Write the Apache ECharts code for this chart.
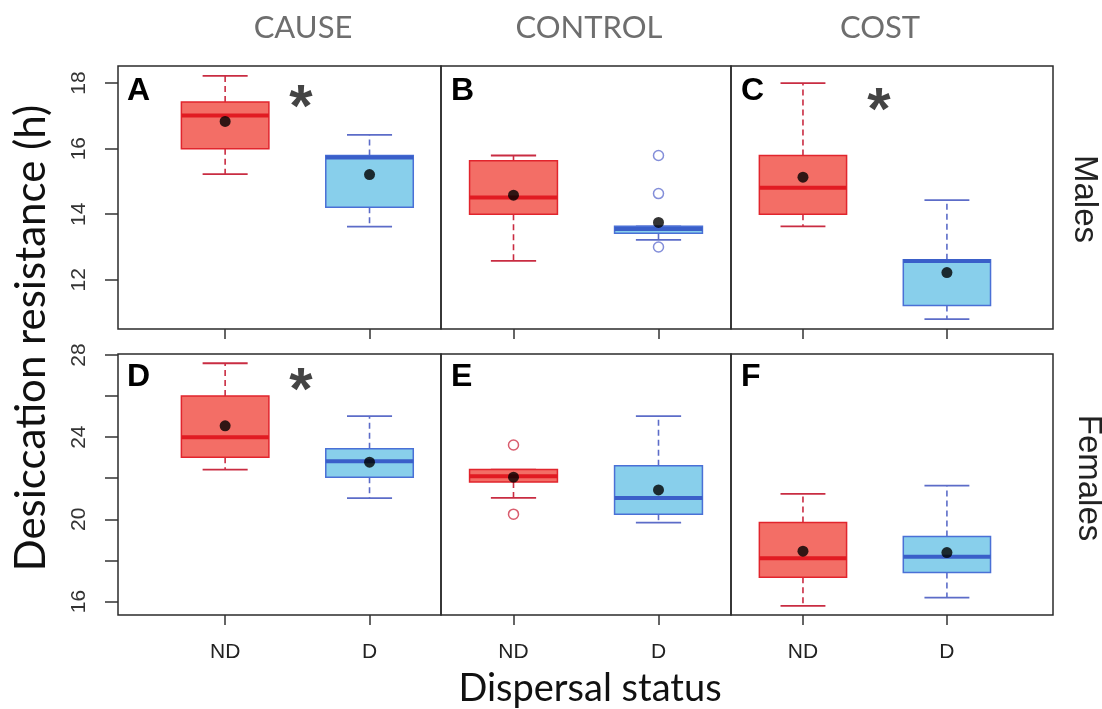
<!DOCTYPE html>
<html>
<head>
<meta charset="utf-8">
<script src="https://cdn.jsdelivr.net/npm/echarts@6/dist/echarts.min.js"></script>
<style>
  html, body { margin: 0; padding: 0; background: #fff; }
  #main { width: 1102px; height: 709px; }
</style>
</head>
<body>
<div id="main"></div>
<script>
const groups = ['ND', 'D'];
const columns = ['CAUSE', 'CONTROL', 'COST'];
const rows = ['Males', 'Females'];
const panelLetters = ['A', 'B', 'C', 'D', 'E', 'F'];

// boxes: [lower whisker, Q1, median, Q3, upper whisker] for ND, D
const maleCauseBox = [[15.22, 16.0, 17.01, 17.42, 18.22], [13.62, 14.21, 15.73, 15.79, 16.42]];
const maleControlBox = [[12.58, 14.0, 14.51, 15.63, 15.79], [13.22, 13.42, 13.55, 13.63, 13.63]];
const maleCostBox = [[13.63, 14.0, 14.81, 15.79, 18.0], [10.8, 11.22, 12.57, 12.61, 14.43]];
const femaleCauseBox = [[22.42, 23.02, 24.0, 26.0, 27.6], [21.03, 22.05, 22.83, 23.43, 25.02]];
const femaleControlBox = [[21.04, 21.82, 22.1, 22.42, 22.42], [19.84, 20.25, 21.04, 22.61, 25.02]];
const femaleCostBox = [[15.78, 17.18, 18.1, 19.84, 21.24], [16.19, 17.41, 18.18, 19.16, 21.64]];

// means (black dots)
const maleCauseMean = [16.83, 15.21];
const maleControlMean = [14.58, 13.75];
const maleCostMean = [15.13, 12.22];
const femaleCauseMean = [24.55, 22.78];
const femaleControlMean = [22.05, 21.43];
const femaleCostMean = [18.45, 18.38];

// outliers
const maleControlOutliers = [[], [15.79, 14.63, 13.0]];
const femaleControlOutliers = [[23.62, 20.25], []];

const maleTicks = [12, 14, 16, 18];
const femaleTicks = [16, 18, 20, 22, 24, 26, 28];
const femaleTickLabels = [16, 20, 24, 28];

const boxes = [maleCauseBox, maleControlBox, maleCostBox, femaleCauseBox, femaleControlBox, femaleCostBox];
const means = [maleCauseMean, maleControlMean, maleCostMean, femaleCauseMean, femaleControlMean, femaleCostMean];
const outliers = [[[], []], maleControlOutliers, [[], []], [[], []], femaleControlOutliers, [[], []]];
const starred = [0, 2, 3];

const colLeft = [118, 441, 731];
const colWidth = [323, 290, 322];
const xMin = [0.258, 0.5, 0.5];
const xMax = [2.495, 2.5, 2.737];
const rowTop = [66, 354];
const rowHeight = [263, 261];
const yMin = [10.5, 15.34];
const yMax = [18.52, 28.05];

const palette = [
  { fill: '#F36E66', border: '#E1252D', median: '#E11B22', whisker: '#C92C42', point: '#D0344A' },
  { fill: '#88CFEB', border: '#4A70D6', median: '#3A5FC9', whisker: '#5C6CC8', point: '#6472CF' }
];

const sans = '"Liberation Sans", Arial, sans-serif';
const soft = 'Lato, "Open Sans", sans-serif';

function renderBox(params, api) {
  const x = api.value(0);
  const c = palette[x - 1];
  const low = api.coord([x, api.value(1)]);
  const q1 = api.coord([x, api.value(2)]);
  const med = api.coord([x, api.value(3)]);
  const q3 = api.coord([x, api.value(4)]);
  const high = api.coord([x, api.value(5)]);
  const half = api.size([0.303, 0])[0];
  const cap = api.size([0.156, 0])[0];
  const cx = low[0];
  return {
    type: 'group',
    children: [
      { type: 'line', shape: { x1: cx, y1: q3[1], x2: cx, y2: high[1] }, style: { stroke: c.whisker, lineWidth: 1.6, lineDash: [6, 4] } },
      { type: 'line', shape: { x1: cx, y1: q1[1], x2: cx, y2: low[1] }, style: { stroke: c.whisker, lineWidth: 1.6, lineDash: [6, 4] } },
      { type: 'line', shape: { x1: cx - cap, y1: high[1], x2: cx + cap, y2: high[1] }, style: { stroke: c.whisker, lineWidth: 1.8 } },
      { type: 'line', shape: { x1: cx - cap, y1: low[1], x2: cx + cap, y2: low[1] }, style: { stroke: c.whisker, lineWidth: 1.8 } },
      { type: 'rect', shape: { x: cx - half, y: q3[1], width: half * 2, height: q1[1] - q3[1] }, style: { fill: c.fill, stroke: c.border, lineWidth: 1.5 } },
      { type: 'line', shape: { x1: cx - half, y1: med[1], x2: cx + half, y2: med[1] }, style: { stroke: c.median, lineWidth: 4 } }
    ]
  };
}

const grid = [], xAxis = [], yAxis = [], series = [], graphic = [];

for (let i = 0; i < 6; i++) {
  const r = Math.floor(i / 3), col = i % 3;
  grid.push({
    left: colLeft[col], width: colWidth[col], top: rowTop[r], height: rowHeight[r],
    show: true, borderColor: '#2b2b2b', borderWidth: 1.5, backgroundColor: 'transparent'
  });
  xAxis.push({
    gridIndex: i, type: 'value', min: xMin[col], max: xMax[col],
    axisLine: { show: false }, splitLine: { show: false },
    axisTick: { show: true, customValues: [1, 2], length: 10, lineStyle: { color: '#333', width: 1.5 } },
    axisLabel: {
      show: r === 1, customValues: [1, 2], formatter: v => groups[v - 1],
      fontSize: 21, fontFamily: sans, color: '#222', margin: 27
    }
  });
  const ticks = r === 0 ? maleTicks : femaleTicks;
  const labels = r === 0 ? maleTicks : femaleTickLabels;
  yAxis.push({
    gridIndex: i, type: 'value', min: yMin[r], max: yMax[r],
    axisLine: { show: false }, splitLine: { show: false },
    axisTick: { show: col === 0, customValues: ticks, length: 13, lineStyle: { color: '#333', width: 1.5 } },
    axisLabel: {
      show: col === 0, customValues: labels, rotate: 90,
      fontSize: 21, fontFamily: sans, color: '#333', margin: 28
    }
  });
  series.push({
    type: 'custom', xAxisIndex: i, yAxisIndex: i, z: 2,
    renderItem: renderBox,
    data: boxes[i].map((b, g) => [g + 1].concat(b))
  });
  for (let g = 0; g < 2; g++) {
    if (outliers[i][g].length) {
      series.push({
        type: 'scatter', xAxisIndex: i, yAxisIndex: i, z: 3,
        symbol: 'circle', symbolSize: 10,
        itemStyle: { color: '#fff', borderColor: palette[g].point, borderWidth: 1.5 },
        data: outliers[i][g].map(v => [g + 1, v])
      });
    }
  }
  series.push({
    type: 'scatter', xAxisIndex: i, yAxisIndex: i, z: 4,
    symbol: 'circle', symbolSize: 11, itemStyle: { color: '#000' },
    data: means[i].map((v, g) => [g + 1, v])
  });
  graphic.push({
    type: 'text', left: colLeft[col] + (col === 0 ? 9 : 10), top: rowTop[r] + (r === 0 ? 9 : 7),
    style: { text: panelLetters[i], font: 'bold 32px ' + sans, fill: '#000' }
  });
}

starred.forEach(i => {
  const r = Math.floor(i / 3), col = i % 3;
  const cx = [301, 0, 879][col];
  const cy = [rowTop[0] + 33, rowTop[1] + 28][r] + (i === 2 ? 3 : 0);
  graphic.push({
    type: 'text', x: cx, y: cy + 10,
    style: { text: '*', font: 'bold 60px ' + sans, fill: '#444', align: 'center', verticalAlign: 'middle' }
  });
});

const colCenter = [303, 589, 880];
columns.forEach((t, k) => {
  graphic.push({
    type: 'text', x: colCenter[k], y: 28,
    style: { text: t, font: '31px ' + soft, fill: '#6e6e6e', align: 'center', verticalAlign: 'middle' }
  });
});

graphic.push({
  type: 'text', x: 1084, y: 199, rotation: -Math.PI / 2,
  style: { text: rows[0], font: '33px ' + sans, fill: '#222', align: 'center', verticalAlign: 'middle' }
});
graphic.push({
  type: 'text', x: 1088, y: 478, rotation: -Math.PI / 2,
  style: { text: rows[1], font: '33px ' + sans, fill: '#222', align: 'center', verticalAlign: 'middle' }
});
graphic.push({
  type: 'text', x: 31, y: 338, rotation: Math.PI / 2,
  style: { text: 'Desiccation resistance (h)', font: '42px ' + soft, fill: '#111', align: 'center', verticalAlign: 'middle' }
});
graphic.push({
  type: 'text', x: 590, y: 689,
  style: { text: 'Dispersal status', font: '38px ' + soft, fill: '#111', align: 'center', verticalAlign: 'middle' }
});

const chart = echarts.init(document.getElementById('main'));
chart.setOption({
  animation: false,
  backgroundColor: '#fff',
  grid: grid,
  xAxis: xAxis,
  yAxis: yAxis,
  series: series,
  graphic: graphic
});
</script>
</body>
</html>
